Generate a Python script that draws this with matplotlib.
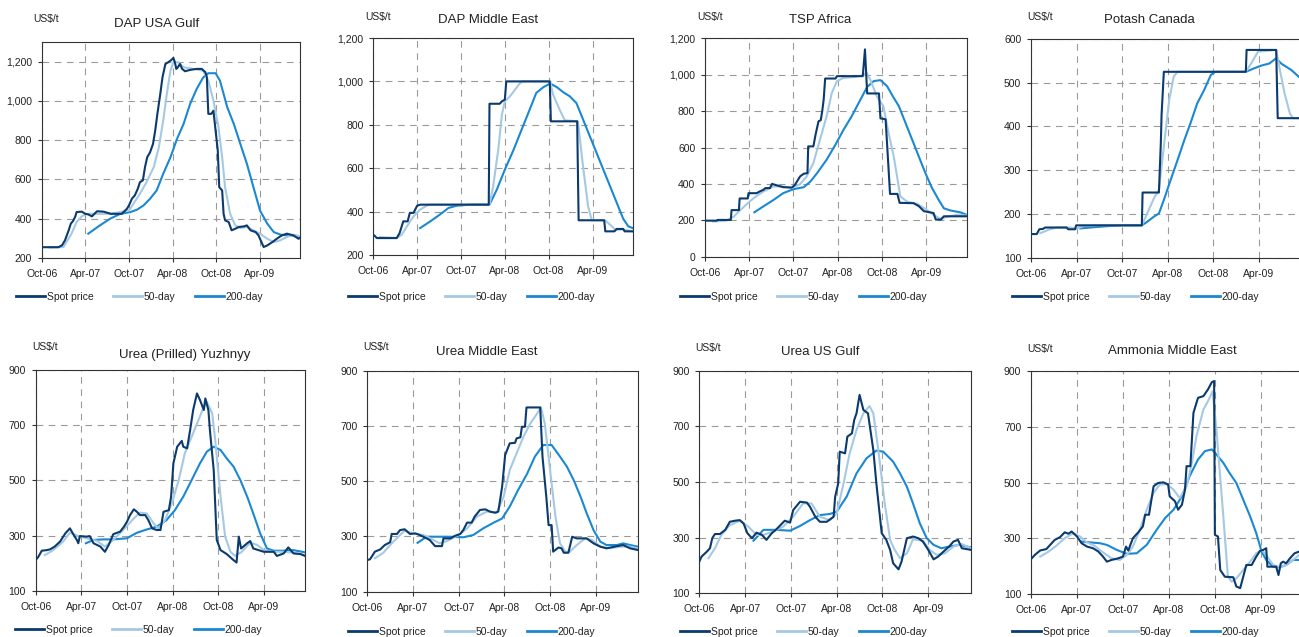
import matplotlib
matplotlib.use("Agg")
import matplotlib.pyplot as plt
from matplotlib.lines import Line2D
from matplotlib.ticker import FuncFormatter

plt.rcParams['font.family'] = ['Liberation Sans', 'DejaVu Sans']

W, H = 1299, 637

SPOT_COLOR = '#0b3a6e'
MA50_COLOR = '#a5c9e3'
MA200_COLOR = '#1a88d2'
TEXT_COLOR = '#222222'

# x = months since Oct-06
month_ticks = [0, 6, 12, 18, 24, 30]
month_labels = ['Oct-06', 'Apr-07', 'Oct-07', 'Apr-08', 'Oct-08', 'Apr-09']
series_names = ['Spot price', '50-day', '200-day']

# ---- DAP USA Gulf ----
dap_usa_spot = [(0, 255), (2.3, 255), (2.8, 265), (3.2, 290), (3.7, 340), (4.0, 375), (4.3, 388), (4.6, 410),
                (4.8, 434), (5.5, 436), (6.0, 425), (6.4, 422), (6.9, 412), (7.6, 438), (8.5, 436), (9.5, 425),
                (11.0, 425), (11.7, 450), (12.0, 468), (12.4, 502), (12.8, 519), (13.2, 552), (13.5, 586),
                (13.9, 595), (14.2, 663), (14.5, 713), (14.9, 739), (15.3, 781), (15.6, 849), (15.9, 934),
                (16.3, 1036), (16.6, 1120), (17.0, 1188), (17.4, 1197), (17.8, 1208), (18.1, 1219), (18.3, 1197),
                (18.5, 1163), (18.7, 1171), (19.0, 1188), (19.3, 1163), (19.7, 1151), (20.4, 1158), (21.3, 1163),
                (22.0, 1163), (22.5, 1146), (22.7, 1120), (22.9, 934), (23.3, 934), (23.6, 950), (23.9, 849),
                (24.2, 747), (24.4, 561), (24.8, 544), (25.0, 425), (25.2, 392), (25.7, 383), (26.1, 341),
                (26.6, 349), (27.1, 358), (27.8, 361), (28.2, 366), (28.7, 341), (29.4, 332), (29.8, 315),
                (30.5, 256), (31.0, 264), (31.7, 281), (32.3, 298), (33.0, 315), (33.7, 324), (34.6, 315),
                (35.3, 298), (35.5, 303)]
dap_usa_50 = [(1.1, 253), (3.0, 256), (3.4, 281), (4.1, 324), (4.8, 383), (5.5, 412), (6.2, 425), (7.1, 425),
              (9.4, 425), (12.0, 442), (12.6, 476), (13.5, 527), (14.4, 586), (15.4, 663), (16.1, 764),
              (16.7, 900), (17.2, 1036), (17.7, 1154), (18.1, 1197), (18.8, 1197), (19.5, 1171), (20.9, 1163),
              (22.2, 1154), (22.9, 1103), (23.6, 1002), (24.3, 866), (24.8, 713), (25.2, 561), (25.9, 425),
              (26.6, 366), (27.3, 353), (28.2, 358), (29.1, 341), (30.0, 324), (31.0, 298), (31.9, 281),
              (32.8, 290), (33.7, 307), (34.6, 319), (35.5, 310)]
dap_usa_200 = [(6.4, 324), (8.0, 366), (9.4, 400), (10.8, 425), (12.2, 434), (13.1, 446), (14.0, 468),
               (14.9, 502), (15.8, 544), (16.7, 629), (17.7, 713), (18.6, 807), (19.5, 883), (20.4, 985),
               (21.3, 1061), (22.2, 1120), (22.9, 1141), (23.9, 1141), (24.5, 1103), (25.5, 968), (26.4, 883),
               (27.3, 781), (28.2, 680), (29.1, 561), (30.0, 442), (31.0, 375), (31.9, 332), (32.8, 319),
               (33.7, 315), (34.6, 315), (35.5, 303)]

# ---- DAP Middle East ----
dap_me_spot = [(0, 294), (0.5, 278), (3.2, 278), (3.6, 301), (4.1, 355), (4.7, 355), (5.0, 394), (5.5, 394),
               (6.0, 427), (6.4, 432), (15.8, 432), (15.9, 897), (17.3, 897), (17.6, 908), (18.0, 916),
               (18.2, 1000), (24.15, 1000), (24.3, 816), (27.9, 816), (28.1, 360), (31.6, 360), (31.75, 309),
               (33.0, 309), (33.3, 320), (34.2, 320), (34.4, 309), (35.5, 309)]
dap_me_50 = [(0.9, 283), (3.2, 278), (3.9, 294), (4.6, 332), (5.5, 378), (6.4, 409), (7.3, 427), (7.8, 432),
             (15.9, 432), (16.4, 516), (17.1, 685), (17.6, 847), (18.0, 908), (18.7, 931), (19.4, 962),
             (20.1, 993), (20.5, 1000), (24.2, 1000), (24.6, 939), (25.5, 870), (26.2, 821), (28.0, 816),
             (28.7, 609), (29.4, 424), (29.9, 360), (31.7, 360), (32.4, 340), (33.1, 317), (34.2, 317),
             (35.5, 309)]
dap_me_200 = [(6.4, 324), (7.8, 355), (9.1, 386), (10.3, 417), (11.4, 427), (13.2, 432), (15.9, 432),
              (16.9, 501), (18.0, 593), (19.2, 685), (20.3, 778), (21.4, 870), (22.3, 947), (23.3, 974),
              (24.2, 990), (25.1, 974), (26.0, 950), (26.9, 931), (27.8, 900), (28.7, 825), (29.6, 750),
              (30.6, 667), (31.5, 592), (32.4, 517), (33.3, 442), (34.2, 367), (34.9, 332), (35.5, 324)]

# ---- TSP Africa ----
tsp_spot = [(0, 198), (1.6, 198), (1.7, 202), (3.5, 202), (3.6, 256), (4.6, 256), (4.7, 320), (5.8, 320),
            (5.9, 349), (7.0, 349), (7.5, 360), (7.9, 367), (8.2, 377), (8.8, 377), (9.1, 400), (9.5, 395),
            (10.6, 382), (11.8, 380), (12.2, 395), (12.9, 441), (13.4, 456), (13.9, 459), (14.0, 606),
            (14.7, 606), (15.0, 671), (15.4, 744), (15.7, 750), (15.9, 799), (16.1, 864), (16.3, 979),
            (17.7, 979), (17.9, 992), (21.4, 992), (21.7, 1139), (22.0, 897), (23.6, 897), (23.8, 760),
            (24.5, 755), (24.8, 551), (25.1, 345), (26.1, 345), (26.4, 296), (28.3, 294), (29.0, 278),
            (29.7, 250), (31.0, 240), (31.3, 204), (32.0, 204), (32.4, 222), (35.5, 222)]
tsp_50 = [(1.1, 193), (2.9, 198), (3.9, 220), (4.8, 257), (5.7, 290), (6.6, 322), (7.9, 358), (9.3, 386),
          (10.6, 386), (11.8, 377), (12.9, 399), (13.8, 441), (14.7, 515), (15.6, 643), (16.5, 772),
          (17.2, 900), (17.9, 965), (18.8, 983), (20.2, 987), (21.3, 996), (21.9, 1011), (22.4, 974),
          (23.3, 882), (24.2, 827), (24.9, 680), (25.6, 551), (26.5, 331), (27.4, 303), (28.8, 290),
          (30.1, 257), (31.0, 230), (31.9, 208), (32.9, 220), (34.2, 230), (35.5, 226)]
tsp_200 = [(6.7, 244), (7.9, 276), (9.3, 312), (10.6, 349), (12.0, 371), (13.4, 382), (14.3, 413), (15.2, 459),
           (16.5, 533), (17.7, 616), (18.8, 698), (19.9, 772), (21.1, 864), (22.0, 933), (22.9, 965),
           (23.8, 970), (24.7, 937), (25.6, 873), (26.3, 827), (27.2, 735), (28.1, 643), (29.0, 551),
           (29.9, 459), (30.8, 377), (31.7, 312), (32.4, 266), (33.3, 254), (34.7, 243), (35.5, 230)]

# ---- Potash Canada ----
potash_spot = [(0, 154), (0.75, 154), (1.1, 165), (1.6, 166), (1.85, 169), (4.7, 169), (4.9, 165), (5.8, 165),
               (5.95, 174), (14.6, 174), (14.7, 249), (16.85, 249), (17.1, 361), (17.2, 426), (17.5, 525),
               (28.3, 525), (28.4, 575), (32.3, 575), (32.5, 419), (35.7, 419)]
potash_50 = [(1.2, 156), (2.5, 165), (3.4, 169), (5.2, 169), (5.95, 166), (6.9, 172), (9.1, 174), (14.6, 174),
             (15.3, 201), (16.2, 236), (16.85, 255), (17.5, 354), (18.2, 460), (18.8, 514), (19.3, 525),
             (28.3, 525), (29.0, 544), (29.9, 571), (32.3, 575), (32.7, 537), (33.4, 476), (34.1, 430),
             (34.5, 419), (35.7, 419)]
potash_200 = [(6.5, 167), (7.8, 169), (10.0, 172), (12.2, 174), (14.6, 174), (15.3, 182), (16.2, 194),
              (16.85, 201), (17.5, 232), (18.4, 278), (19.3, 323), (20.2, 369), (21.0, 407), (21.9, 453),
              (22.8, 483), (23.7, 518), (24.3, 525), (28.3, 525), (29.4, 533), (30.3, 539), (31.4, 544),
              (32.3, 556), (32.95, 544), (34.3, 529), (35.7, 507)]

# ---- Urea (Prilled) Yuzhnyy ----
urea_yuz_spot = [(0, 211), (0.35, 223), (0.8, 245), (1.45, 247), (1.9, 250), (2.5, 260), (3.2, 278), (3.9, 308),
                 (4.5, 326), (5.0, 302), (5.4, 284), (5.6, 272), (5.8, 298), (6.7, 296), (7.1, 298), (7.6, 272),
                 (8.5, 260), (9.1, 241), (9.6, 266), (10.2, 305), (11.1, 314), (11.6, 332), (12.0, 350),
                 (12.4, 374), (12.9, 395), (13.3, 386), (13.7, 374), (14.4, 374), (14.8, 356), (15.3, 326),
                 (15.9, 320), (16.4, 320), (16.8, 386), (17.5, 392), (17.8, 441), (18.1, 562), (18.6, 622),
                 (19.2, 643), (19.4, 622), (19.9, 616), (20.3, 682), (20.7, 755), (21.2, 815), (21.6, 791),
                 (22.1, 755), (22.3, 797), (22.7, 755), (22.9, 682), (23.4, 537), (23.8, 284), (24.3, 247),
                 (25.1, 233), (26.0, 211), (26.4, 202), (26.7, 296), (27.0, 253), (27.8, 272), (28.2, 280),
                 (28.6, 253), (30.0, 241), (31.3, 241), (31.7, 226), (32.6, 235), (33.2, 257), (33.9, 235),
                 (34.8, 233), (35.4, 226)]
urea_yuz_50 = [(1.2, 229), (2.3, 247), (3.6, 278), (4.5, 310), (5.6, 298), (6.7, 290), (8.0, 281), (9.1, 260),
               (10.2, 284), (11.5, 320), (12.9, 362), (13.7, 383), (14.6, 380), (15.5, 344), (16.1, 326),
               (17.0, 356), (17.9, 417), (18.8, 501), (19.6, 598), (20.5, 658), (21.4, 719), (22.1, 767),
               (22.5, 785), (23.2, 743), (23.6, 646), (24.3, 441), (24.9, 296), (25.6, 241), (26.2, 226),
               (27.1, 241), (28.2, 274), (29.1, 266), (30.0, 247), (31.3, 241), (32.6, 241), (33.9, 238),
               (35.4, 229)]
urea_yuz_200 = [(6.6, 272), (7.6, 284), (8.9, 286), (10.2, 286), (12.0, 290), (13.3, 310), (14.6, 322),
                (15.9, 332), (17.2, 356), (18.3, 392), (19.4, 441), (20.5, 501), (21.6, 562), (22.5, 604),
                (23.4, 622), (24.3, 610), (25.1, 580), (26.0, 550), (26.9, 501), (27.8, 441), (28.6, 380),
                (29.5, 308), (30.4, 253), (31.3, 245), (32.6, 245), (33.9, 247), (35.4, 239)]

# ---- Urea Middle East ----
urea_me_spot = [(0, 215), (0.35, 217), (1.0, 245), (1.7, 253), (2.3, 269), (3.0, 279), (3.2, 309), (3.9, 309),
                (4.3, 323), (4.9, 326), (5.6, 309), (6.3, 311), (6.9, 305), (7.8, 293), (8.2, 287), (8.9, 265),
                (9.8, 265), (10.0, 293), (10.9, 293), (11.5, 302), (12.2, 309), (12.6, 323), (13.1, 350),
                (13.7, 350), (14.1, 372), (14.8, 396), (15.5, 398), (16.1, 390), (16.8, 386), (17.2, 390),
                (17.7, 480), (18.1, 595), (18.7, 637), (19.4, 639), (19.6, 655), (20.1, 659), (20.3, 697),
                (20.7, 697), (20.9, 767), (22.7, 767), (23.0, 589), (23.5, 444), (23.8, 341), (24.2, 341),
                (24.4, 245), (25.1, 260), (25.5, 257), (25.8, 241), (26.4, 241), (26.9, 299), (27.5, 293),
                (28.8, 293), (29.7, 275), (30.6, 263), (31.4, 257), (32.8, 265), (33.6, 269), (34.5, 257),
                (35.5, 251)]
urea_me_50 = [(1.0, 221), (2.1, 241), (3.2, 275), (4.3, 305), (4.9, 321), (6.0, 311), (7.4, 305), (8.7, 287),
              (9.5, 275), (10.6, 285), (12.0, 305), (13.1, 329), (14.4, 372), (15.7, 390), (17.0, 386),
              (17.9, 444), (18.7, 540), (19.6, 601), (20.5, 661), (21.4, 709), (22.3, 745), (22.8, 767),
              (23.3, 709), (24.0, 540), (24.7, 372), (25.3, 275), (26.0, 245), (26.6, 245), (27.5, 269),
              (28.6, 293), (29.5, 287), (30.6, 263), (31.9, 257), (33.2, 263), (34.5, 263), (35.5, 257)]
urea_me_200 = [(6.6, 277), (7.8, 299), (9.1, 299), (10.9, 299), (12.6, 297), (13.9, 305), (15.2, 329),
               (16.6, 350), (17.7, 365), (18.7, 408), (19.8, 468), (21.0, 528), (22.0, 589), (23.1, 631),
               (24.2, 631), (25.3, 589), (26.2, 553), (27.1, 504), (28.0, 444), (28.8, 384), (29.7, 323),
               (30.6, 281), (31.4, 269), (32.8, 269), (33.6, 275), (34.5, 269), (35.5, 263)]

# ---- Urea US Gulf ----
urea_usg_spot = [(0, 214), (0.3, 232), (1.0, 250), (1.4, 262), (1.7, 298), (2.05, 313), (2.7, 313), (3.4, 328),
                 (4.0, 357), (4.7, 361), (5.3, 363), (5.8, 351), (6.3, 316), (6.9, 298), (7.5, 318), (8.2, 310),
                 (8.8, 292), (9.5, 316), (10.1, 330), (11.2, 361), (11.9, 354), (12.3, 399), (13.2, 429),
                 (14.1, 426), (14.5, 411), (15.2, 375), (15.8, 357), (16.7, 357), (17.6, 375), (17.8, 447),
                 (18.2, 495), (18.4, 609), (19.1, 603), (19.4, 663), (20.0, 675), (20.3, 723), (20.6, 747),
                 (21.0, 813), (21.5, 759), (22.1, 747), (22.8, 615), (23.2, 495), (23.9, 316), (24.5, 292),
                 (25.0, 256), (25.4, 208), (26.1, 186), (26.5, 214), (27.2, 298), (28.0, 304), (28.7, 298),
                 (29.3, 286), (30.0, 256), (30.7, 222), (31.3, 232), (32.0, 250), (32.8, 270), (33.3, 286),
                 (33.9, 292), (34.4, 262), (35.6, 256)]
urea_usg_50 = [(1.2, 226), (2.05, 262), (2.9, 310), (4.0, 345), (5.3, 361), (6.4, 340), (7.5, 310), (8.4, 310),
               (9.7, 322), (11.0, 340), (12.3, 375), (13.6, 423), (14.7, 423), (15.8, 375), (17.1, 363),
               (18.0, 387), (18.9, 495), (19.7, 603), (20.6, 687), (21.5, 747), (22.3, 773), (22.8, 747),
               (23.4, 627), (24.3, 423), (25.0, 292), (25.6, 256), (26.3, 226), (27.2, 244), (28.0, 294),
               (29.3, 289), (30.2, 256), (31.1, 238), (32.2, 244), (33.3, 268), (34.4, 277), (35.6, 262)]
urea_usg_200 = [(7.1, 289), (8.4, 328), (10.1, 328), (11.9, 325), (13.2, 342), (14.5, 363), (15.8, 381),
                (17.1, 385), (18.0, 393), (19.3, 447), (20.6, 531), (21.9, 585), (23.2, 613), (24.1, 609),
                (25.4, 573), (26.3, 531), (27.2, 483), (28.0, 423), (28.9, 351), (29.8, 298), (30.7, 274),
                (31.7, 262), (32.8, 268), (34.1, 274), (35.6, 265)]

# ---- Ammonia Middle East ----
ammonia_spot = [(0, 226), (0.5, 241), (1.2, 257), (2.0, 262), (2.7, 283), (3.1, 295), (3.8, 305), (4.4, 322),
                (4.9, 317), (5.3, 325), (6.0, 307), (6.6, 283), (7.3, 271), (8.1, 265), (8.8, 253), (9.4, 235),
                (9.9, 217), (10.5, 223), (11.4, 229), (12.0, 235), (12.4, 271), (12.7, 257), (13.3, 301),
                (14.0, 322), (14.6, 343), (14.9, 385), (15.4, 385), (16.0, 487), (16.6, 499), (17.3, 501),
                (17.9, 493), (18.1, 451), (18.8, 433), (19.2, 403), (19.7, 421), (20.1, 475), (20.3, 559),
                (20.8, 559), (21.2, 750), (21.8, 804), (22.5, 810), (23.1, 834), (23.6, 860), (23.9, 864),
                (24.0, 313), (24.4, 307), (24.7, 187), (25.3, 163), (26.4, 161), (26.8, 128), (27.3, 122),
                (27.7, 163), (28.1, 205), (28.8, 205), (29.4, 235), (29.9, 256), (30.3, 259), (30.7, 265),
                (30.85, 199), (32.0, 199), (32.3, 169), (32.6, 211), (32.9, 217), (33.3, 211), (33.8, 229),
                (34.4, 247), (35.0, 253), (35.5, 255)]
ammonia_50 = [(1.2, 235), (2.3, 253), (3.3, 274), (4.4, 301), (5.5, 319), (6.4, 307), (7.3, 286), (8.3, 274),
              (9.4, 250), (10.5, 229), (11.6, 223), (12.5, 241), (13.3, 271), (14.2, 331), (15.1, 403),
              (16.0, 463), (16.8, 493), (17.7, 495), (18.6, 475), (19.4, 445), (20.3, 487), (21.0, 571),
              (21.6, 667), (22.5, 762), (23.1, 792), (23.7, 828), (24.2, 690), (25.1, 379), (25.7, 163),
              (26.2, 145), (26.8, 157), (27.7, 187), (28.6, 217), (29.4, 247), (30.1, 259), (30.7, 241),
              (31.6, 205), (32.5, 197), (33.3, 205), (34.2, 223), (35.0, 241), (35.5, 245)]
ammonia_200 = [(6.6, 289), (7.7, 286), (9.0, 283), (9.9, 277), (11.2, 259), (12.5, 245), (13.8, 247),
               (15.1, 277), (16.4, 331), (17.5, 373), (18.6, 403), (19.7, 451), (20.7, 523), (21.8, 583),
               (22.7, 613), (23.6, 619), (24.2, 601), (25.1, 571), (25.9, 535), (26.8, 499), (27.7, 439),
               (28.6, 379), (29.4, 319), (30.1, 253), (30.7, 223), (31.6, 199), (32.5, 197), (33.3, 205),
               (34.2, 223), (35.0, 223), (35.5, 224)]

panels = [
    ('DAP USA Gulf', dap_usa_spot, dap_usa_50, dap_usa_200, (200, 1300), range(200, 1201, 200)),
    ('DAP Middle East', dap_me_spot, dap_me_50, dap_me_200, (200, 1200), range(200, 1201, 200)),
    ('TSP Africa', tsp_spot, tsp_50, tsp_200, (0, 1200), range(0, 1201, 200)),
    ('Potash Canada', potash_spot, potash_50, potash_200, (100, 600), range(100, 601, 100)),
    ('Urea (Prilled) Yuzhnyy', urea_yuz_spot, urea_yuz_50, urea_yuz_200, (100, 900), range(100, 901, 200)),
    ('Urea Middle East', urea_me_spot, urea_me_50, urea_me_200, (100, 900), range(100, 901, 200)),
    ('Urea US Gulf', urea_usg_spot, urea_usg_50, urea_usg_200, (100, 900), range(100, 901, 200)),
    ('Ammonia Middle East', ammonia_spot, ammonia_50, ammonia_200, (100, 900), range(100, 901, 200)),
]

# pixel layout: axes box (l, t, r, b), x max, title centre, unit label, legend start
layout = [
    ((41.7, 42, 300, 258), 35.5, (157, 24), (33, 19), (16, 297)),
    ((373.3, 38, 632.7, 255), 35.5, (488, 20), (365, 17), (348, 297)),
    ((705, 38.3, 966.7, 256.7), 35.5, (820, 20), (697, 17), (680, 297)),
    ((1031, 39, 1302, 257.7), 35.7, (1149, 20), (1027, 17), (1012, 297)),
    ((35.7, 370, 305, 590.7), 35.4, (185, 355), (32, 347), (15, 630)),
    ((367.3, 370.7, 637.7, 591.7), 35.5, (487, 352), (363, 347), (348, 632)),
    ((699.3, 370.7, 971, 593.3), 35.6, (820, 352), (695, 348), (680, 632)),
    ((1031, 371, 1303, 594.3), 35.5, (1172, 351), (1027, 349), (1012, 632)),
]

fig = plt.figure(figsize=(W / 100, H / 100), dpi=100)
fig.patch.set_facecolor('white')

thousands = FuncFormatter(lambda v, p: '{:,.0f}'.format(v))

for (title, spot, ma50, ma200, ylim, yticks), (box, xmax, tpos, upos, lpos) in zip(panels, layout):
    l, t, r, b = box
    ax = fig.add_axes([l / W, 1 - b / H, (r - l) / W, (b - t) / H])

    for pts, col, z in [(ma200, MA200_COLOR, 2), (ma50, MA50_COLOR, 3), (spot, SPOT_COLOR, 4)]:
        xs = [p[0] for p in pts]
        ys = [p[1] for p in pts]
        ax.plot(xs, ys, color=col, lw=1.5, zorder=z, solid_joinstyle='round')

    ax.set_xlim(0, xmax)
    ax.set_ylim(*ylim)
    ax.set_xticks(month_ticks)
    ax.set_xticklabels(month_labels)
    ax.set_yticks(list(yticks))
    ax.yaxis.set_major_formatter(thousands)
    ax.tick_params(axis='both', direction='out', length=3, width=0.8, labelsize=7.5,
                   colors='#333333', labelcolor=TEXT_COLOR)
    ax.tick_params(axis='y', pad=4)
    ax.tick_params(axis='x', pad=5)
    ax.grid(True, color='#9a9a9a', linestyle=(0, (6, 5)), linewidth=0.8)
    ax.set_axisbelow(True)
    for sp in ax.spines.values():
        sp.set_color('#333333')
        sp.set_linewidth(0.8)

    fig.text(tpos[0] / W, 1 - tpos[1] / H, title, ha='center', va='center',
             fontsize=9.5, color=TEXT_COLOR)
    fig.text(upos[0] / W, 1 - upos[1] / H, 'US$/t', ha='left', va='center',
             fontsize=7.5, color=TEXT_COLOR)

    handles = [Line2D([], [], color=c, lw=2) for c in (SPOT_COLOR, MA50_COLOR, MA200_COLOR)]
    ax.legend(handles, series_names, loc='center left',
              bbox_to_anchor=(lpos[0] / W, 1 - lpos[1] / H), bbox_transform=fig.transFigure,
              ncol=3, frameon=False, fontsize=7.5, handlelength=2.8, handletextpad=0.2,
              columnspacing=1.8, borderpad=0, borderaxespad=0, labelcolor=TEXT_COLOR)

fig.savefig('out.png', dpi=100, facecolor='white')
